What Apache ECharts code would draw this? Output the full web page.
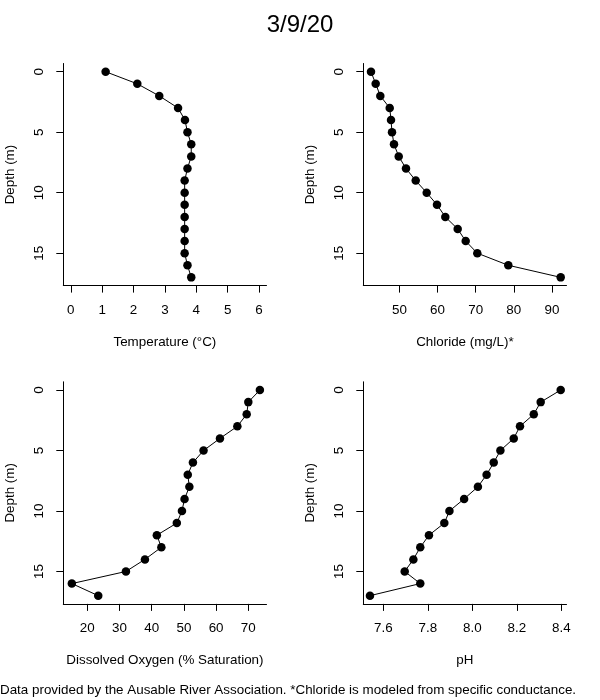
<!DOCTYPE html>
<html>
<head>
<meta charset="utf-8">
<script src="https://cdn.jsdelivr.net/npm/echarts@6/dist/echarts.min.js"></script>
<style>html,body{margin:0;padding:0;background:#fff;}#c{width:600px;height:700px;}</style>
</head>
<body>
<div id="c"></div>
<script>
const depth = [0, 1, 2, 3, 4, 5, 6, 7, 8, 9, 10, 11, 12, 13, 14, 15, 16, 17];
const temperature = [1.11, 2.12, 2.82, 3.42, 3.64, 3.72, 3.84, 3.84, 3.72, 3.63, 3.63, 3.63, 3.63, 3.63, 3.63, 3.63, 3.72, 3.84];
const chloride = [42.55, 43.78, 44.99, 47.46, 47.80, 48.06, 48.58, 49.82, 51.73, 54.28, 57.16, 59.86, 62.04, 65.29, 67.39, 70.43, 78.56, 92.31];
const dissolvedOxygen = [73.6, 70.0, 69.5, 66.6, 61.2, 56.1, 52.8, 51.2, 51.7, 50.2, 49.4, 47.8, 41.6, 43.0, 37.9, 32.0, 15.2, 23.4];
const pH = [8.397, 8.307, 8.276, 8.214, 8.186, 8.126, 8.096, 8.064, 8.025, 7.963, 7.897, 7.874, 7.805, 7.766, 7.735, 7.696, 7.766, 7.540];

const depthTicks = [0, 5, 10, 15];
const tempTicks = [0, 1, 2, 3, 4, 5, 6];
const chlorideTicks = [50, 60, 70, 80, 90];
const doTicks = [20, 30, 40, 50, 60, 70];
const pHTicks = [7.6, 7.8, 8.0, 8.2, 8.4];
const pHTickLabels = ['7.6', '7.8', '8.0', '8.2', '8.4'];

const titleText = '3/9/20';
const footnote = 'Data provided by the Ausable River Association. *Chloride is modeled from specific conductance.';

const FONT = '"Liberation Sans", Arial, Helvetica, sans-serif';
const FS = 13.4;

const panels = [
  {name: 'Temperature (°C)', values: temperature, ticks: tempTicks, labels: null, min: -0.24, max: 6.24, left: 63.3, top: 63.5},
  {name: 'Chloride (mg/L)*', values: chloride, ticks: chlorideTicks, labels: null, min: 40.53, max: 93.83, left: 363.3, top: 63.5},
  {name: 'Dissolved Oxygen (% Saturation)', values: dissolvedOxygen, ticks: doTicks, labels: null, min: 12.55, max: 75.65, left: 63.3, top: 381.8},
  {name: 'pH', values: pH, ticks: pHTicks, labels: pHTickLabels, min: 7.510, max: 8.423, left: 363.3, top: 381.8}
];

const grids = [], xAxes = [], yAxes = [], series = [];
panels.forEach((p, i) => {
  grids.push({left: p.left, top: p.top, width: 203.2, height: 222.1, containLabel: false});
  xAxes.push({
    gridIndex: i, type: 'value', min: p.min, max: p.max,
    axisLine: {show: true, onZero: false, lineStyle: {color: '#000', width: 1}},
    axisTick: {show: true, length: 7, customValues: p.ticks, lineStyle: {color: '#000', width: 1}},
    axisLabel: {
      customValues: p.ticks, margin: 18, color: '#000', fontSize: FS, fontFamily: FONT,
      formatter: (v) => {
        if (p.labels) { const k = p.ticks.findIndex(t => Math.abs(t - v) < 1e-6); return k >= 0 ? p.labels[k] : String(v); }
        return String(v);
      }
    },
    splitLine: {show: false},
    name: p.name, nameLocation: 'middle', nameGap: 50,
    nameTextStyle: {color: '#000', fontSize: FS, fontFamily: FONT}
  });
  yAxes.push({
    gridIndex: i, type: 'value', inverse: true, min: -0.68, max: 17.68,
    axisLine: {show: true, onZero: false, lineStyle: {color: '#000', width: 1}},
    axisTick: {show: true, length: 7, customValues: depthTicks, lineStyle: {color: '#000', width: 1}},
    axisLabel: {customValues: depthTicks, rotate: 90, margin: 17, color: '#000', fontSize: FS, fontFamily: FONT},
    splitLine: {show: false},
    name: 'Depth (m)', nameLocation: 'middle', nameRotate: 90, nameGap: 46,
    nameTextStyle: {color: '#000', fontSize: FS, fontFamily: FONT}
  });
  series.push({
    type: 'line', xAxisIndex: i, yAxisIndex: i,
    data: p.values.map((v, k) => [v, depth[k]]),
    symbol: 'circle', symbolSize: 8.5, showSymbol: true,
    lineStyle: {color: '#000', width: 1},
    itemStyle: {color: '#000'},
    animation: false, silent: true
  });
});

const chart = echarts.init(document.getElementById('c'), null, {renderer: 'canvas'});
chart.setOption({
  backgroundColor: '#fff',
  animation: false,
  title: {text: titleText, left: 'center', top: 8, textStyle: {color: '#000', fontSize: 24, fontWeight: 'normal', fontFamily: FONT}},
  grid: grids, xAxis: xAxes, yAxis: yAxes, series: series,
  graphic: [{type: 'text', left: 0, top: 684, style: {text: footnote, fill: '#000', fontSize: FS, fontFamily: FONT}}]
});
</script>
</body>
</html>
